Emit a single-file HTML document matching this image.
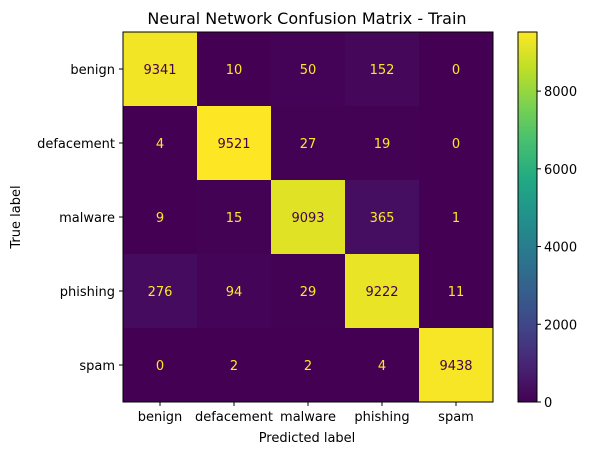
<!DOCTYPE html>
<html><head><meta charset="utf-8"><style>
body{margin:0;background:#fff;}
svg text{font-family:"DejaVu Sans","Liberation Sans",sans-serif;}
</style></head><body>
<svg id="chart" width="590" height="455" xmlns="http://www.w3.org/2000/svg">
<defs><linearGradient id="vir" x1="0" y1="1" x2="0" y2="0">
<stop offset="0" stop-color="#440154"/><stop offset="0.1" stop-color="#482475"/><stop offset="0.2" stop-color="#414487"/><stop offset="0.3" stop-color="#355f8d"/><stop offset="0.4" stop-color="#2a788e"/><stop offset="0.5" stop-color="#21918c"/><stop offset="0.6" stop-color="#22a884"/><stop offset="0.7" stop-color="#44bf70"/><stop offset="0.8" stop-color="#7ad151"/><stop offset="0.9" stop-color="#bddf26"/><stop offset="1" stop-color="#fde725"/>
</linearGradient></defs>
<text x="307" y="24" font-size="16" text-anchor="middle">Neural Network Confusion Matrix - Train</text>
<g id="cells"></g>
<rect x="123" y="32" width="370" height="370" fill="none" stroke="#000" stroke-width="1"/>
<g id="axes"></g>
<text x="307" y="442" font-size="13" text-anchor="middle">Predicted label</text>
<text transform="translate(20,217) rotate(-90)" font-size="13" text-anchor="middle">True label</text>
<rect x="518" y="32" width="19" height="370" fill="url(#vir)" stroke="#000" stroke-width="1"/>
<g id="cbar"></g>
</svg>
<script>
const labels=["benign","defacement","malware","phishing","spam"];
const row0=[9341,10,50,152,0];
const row1=[4,9521,27,19,0];
const row2=[9,15,9093,365,1];
const row3=[276,94,29,9222,11];
const row4=[0,2,2,4,9438];
const cbTicks=[0,2000,4000,6000,8000];
const rows=[row0,row1,row2,row3,row4];
const NS="http://www.w3.org/2000/svg";
const x0=123,y0=32,W=370,n=labels.length,cw=W/n;
const vmax=Math.max(...rows.flat()),vmin=Math.min(...rows.flat());
const stops=["#440154","#482475","#414487","#355f8d","#2a788e","#21918c","#22a884","#44bf70","#7ad151","#bddf26","#fde725"];
function hex(h){return [1,3,5].map(i=>parseInt(h.substr(i,2),16));}
function vir(t){t=Math.max(0,Math.min(1,t));const p=t*10,i=Math.min(9,Math.floor(p)),f=p-i;const a=hex(stops[i]),b=hex(stops[i+1]);return "rgb("+a.map((v,k)=>Math.round(v+(b[k]-v)*f)).join(",")+")";}
function xs(j){return x0+j*cw;}
function ys(i){return y0+i*cw;}
function mk(tag,attrs,parent){const e=document.createElementNS(NS,tag);for(const k in attrs)e.setAttribute(k,attrs[k]);parent.appendChild(e);return e;}
const cells=document.getElementById("cells"),axes=document.getElementById("axes"),cb=document.getElementById("cbar");
const thr=(vmax+vmin)/2;
rows.forEach((r,i)=>r.forEach((v,j)=>{
 const c=mk("rect",{x:xs(j),y:ys(i),width:cw+0.5,height:cw+0.5,fill:vir((v-vmin)/(vmax-vmin))},cells);
 
 
 const t=mk("text",{x:xs(j)+cw/2,y:ys(i)+cw/2+5,"font-size":13,"text-anchor":"middle",fill:v>thr?"#440154":"#fde725"},cells);
 t.textContent=v;
 
 
}));
labels.forEach((l,k)=>{
 const cx=xs(k)+cw/2;
 mk("line",{x1:cx,x2:cx,y1:402,y2:406,stroke:"#000"},axes);
 const tx=mk("text",{x:cx,y:421,"font-size":13,"text-anchor":"middle"},axes);tx.textContent=l;
 
 
 const cy=ys(k)+cw/2;
 mk("line",{x1:119,x2:123,y1:cy,y2:cy,stroke:"#000"},axes);
 const ty=mk("text",{x:115,y:cy+5,"font-size":13,"text-anchor":"end"},axes);ty.textContent=l;
 
 
});
cbTicks.forEach(v=>{
 const y=402-370*(v-vmin)/(vmax-vmin);
 mk("line",{x1:537,x2:541,y1:y,y2:y,stroke:"#000"},cb);
 const t=mk("text",{x:544,y:y+5,"font-size":13},cb);t.textContent=v;
 
 
});
</script>
</body></html>
